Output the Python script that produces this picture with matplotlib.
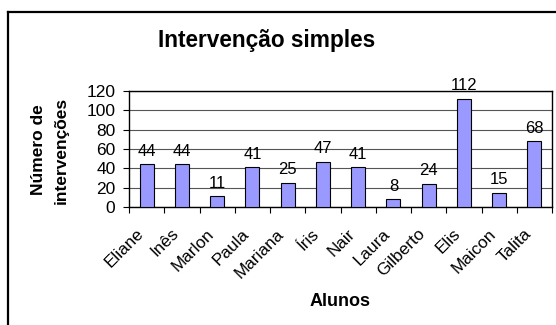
import numpy as np
import matplotlib.pyplot as plt
from matplotlib.lines import Line2D
from matplotlib.transforms import ScaledTranslation

plt.rcParams['font.family'] = ['Liberation Sans', 'DejaVu Sans']

# Interventions per student
alunos = ['Eliane', 'Inês', 'Marlon', 'Paula', 'Mariana', 'Íris',
          'Nair', 'Laura', 'Gilberto', 'Elis', 'Maicon', 'Talita']
intervencoes = [44, 44, 11, 41, 25, 47, 41, 8, 24, 112, 15, 68]

fig = plt.figure(figsize=(5.56, 3.25), dpi=100)
ax = fig.add_axes([129 / 556, 1 - 207 / 325, 423 / 556, 116 / 325])

x = np.arange(len(alunos))
ax.bar(x, intervencoes, width=0.4, color='#9999ff',
       edgecolor='black', linewidth=0.8, zorder=3)

for xi, v in zip(x, intervencoes):
    ax.annotate(str(v), (xi, v), xytext=(0, 4), textcoords='offset points',
                ha='center', va='bottom', fontsize=12)

ax.set_xlim(-0.5, len(alunos) - 0.5)
ax.set_ylim(0, 120)
ax.set_yticks(range(0, 121, 20))
ax.yaxis.grid(True, color='#555555', linewidth=0.8, zorder=0)

# tick marks on the category boundaries
ax.set_xticks(np.arange(-0.5, len(alunos)), labels=[''] * (len(alunos) + 1))
ax.tick_params(axis='x', direction='out', length=4, width=0.8)
ax.tick_params(axis='y', direction='out', length=4.3, width=0.8,
               labelsize=12.5, pad=5.5)

# slanted student names under each bar
shift = ScaledTranslation(-11 / 100, -19 / 100, fig.dpi_scale_trans)
for xi, name in zip(x, alunos):
    ax.text(xi, 0, name, transform=ax.get_xaxis_transform() + shift,
            rotation=45, rotation_mode='anchor', ha='right', va='top',
            fontsize=12.3)

for sp in ax.spines.values():
    sp.set_linewidth(1)
    sp.set_color('black')

ax.set_xlabel('Alunos', fontsize=13, fontweight='bold')
ax.xaxis.set_label_coords(0.5, -0.74)

fig.text(50 / 556, 1 - 150 / 325, 'Número de\nintervenções', rotation=90,
         ha='center', va='center', fontsize=12.5, fontweight='bold',
         linespacing=1.65)

fig.text(267 / 556, 1 - 47 / 325, 'Intervenção simples', ha='center',
         va='baseline', fontsize=16.3, fontweight='bold')

# chart area frame
fig.add_artist(Line2D([8 / 556, 8 / 556], [0, 1 - 12 / 325],
                      transform=fig.transFigure, color='black', linewidth=1.6))
fig.add_artist(Line2D([8 / 556, 1], [1 - 12 / 325, 1 - 12 / 325],
                      transform=fig.transFigure, color='black', linewidth=1.6))

fig.savefig('out.png', dpi=100)
